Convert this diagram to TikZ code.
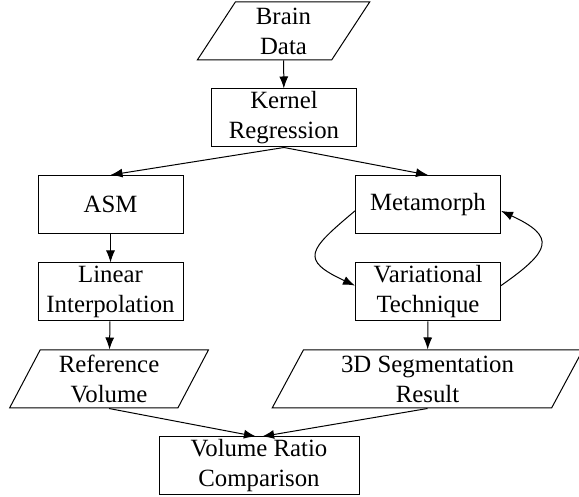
\documentclass[tikz,border=0pt]{standalone}
\usepackage{fontspec}
\setmainfont{Liberation Serif}
\usetikzlibrary{shapes.geometric}
\usetikzlibrary{arrows.meta}
\tikzset{
    every node/.style={
        font=\fontsize{12.4}{15}\selectfont,
        align=center},
    block/.style={
        draw,
        rectangle,
        line width=0.5pt,
        minimum width=72.5pt,
        minimum height=29pt,
        inner sep=0pt},
    io/.style={
        draw,
        trapezium,
        trapezium left angle=65,
        trapezium right angle=115,
        trapezium stretches=true,
        line width=0.5pt,
        minimum height=29pt,
        inner sep=0pt},
    every edge/.style={
        draw,
        -{Latex[length=6pt,width=4.5pt]},
        line width=0.5pt}}

\begin{document}
\begin{tikzpicture}[x=0.5pt,y=0.5pt]
        \clip (0,0) rectangle (579,497);
        \node[io,minimum width=86.5pt] (data) at (283.5,466) {Brain\\Data};
        \node[block] (kernel) at (284,379) {Kernel\\Regression};
        \node[block] (asm) at (110.5,292.5) {ASM};
        \node[block] (linear) at (110.5,205) {Linear\\Interpolation};
        \node[block] (meta) at (428,292.5) {Metamorph};
        \node[block] (var) at (428,205) {Variational\\Technique};
        \node[io,minimum width=100pt] (refvol) at (109,118) {Reference\\Volume};
        \node[io,minimum width=155.5pt] (seg) at (427.5,118) {3D Segmentation\\Result};
        \node[block,minimum width=100pt] (ratio) at (259,31) {Volume Ratio\\Comparison};

        \draw (data) edge (kernel);
        \draw (kernel.south) edge (asm.north);
        \draw (kernel.south) edge (meta.north);
        \draw (asm) edge (linear);
        \draw (linear) edge (refvol);

        % loop between metamorph and variational technique
        \draw (meta.185) edge[out=220,in=155,looseness=2.1] (var.175);
        \draw (var.5) edge[out=35,in=-25,looseness=2.1] (meta.-5);

        \draw (var) edge (seg);
        \draw (refvol.south) edge (ratio.96);
        \draw (seg.south) edge (ratio.84);
    \end{tikzpicture}
\end{document}
